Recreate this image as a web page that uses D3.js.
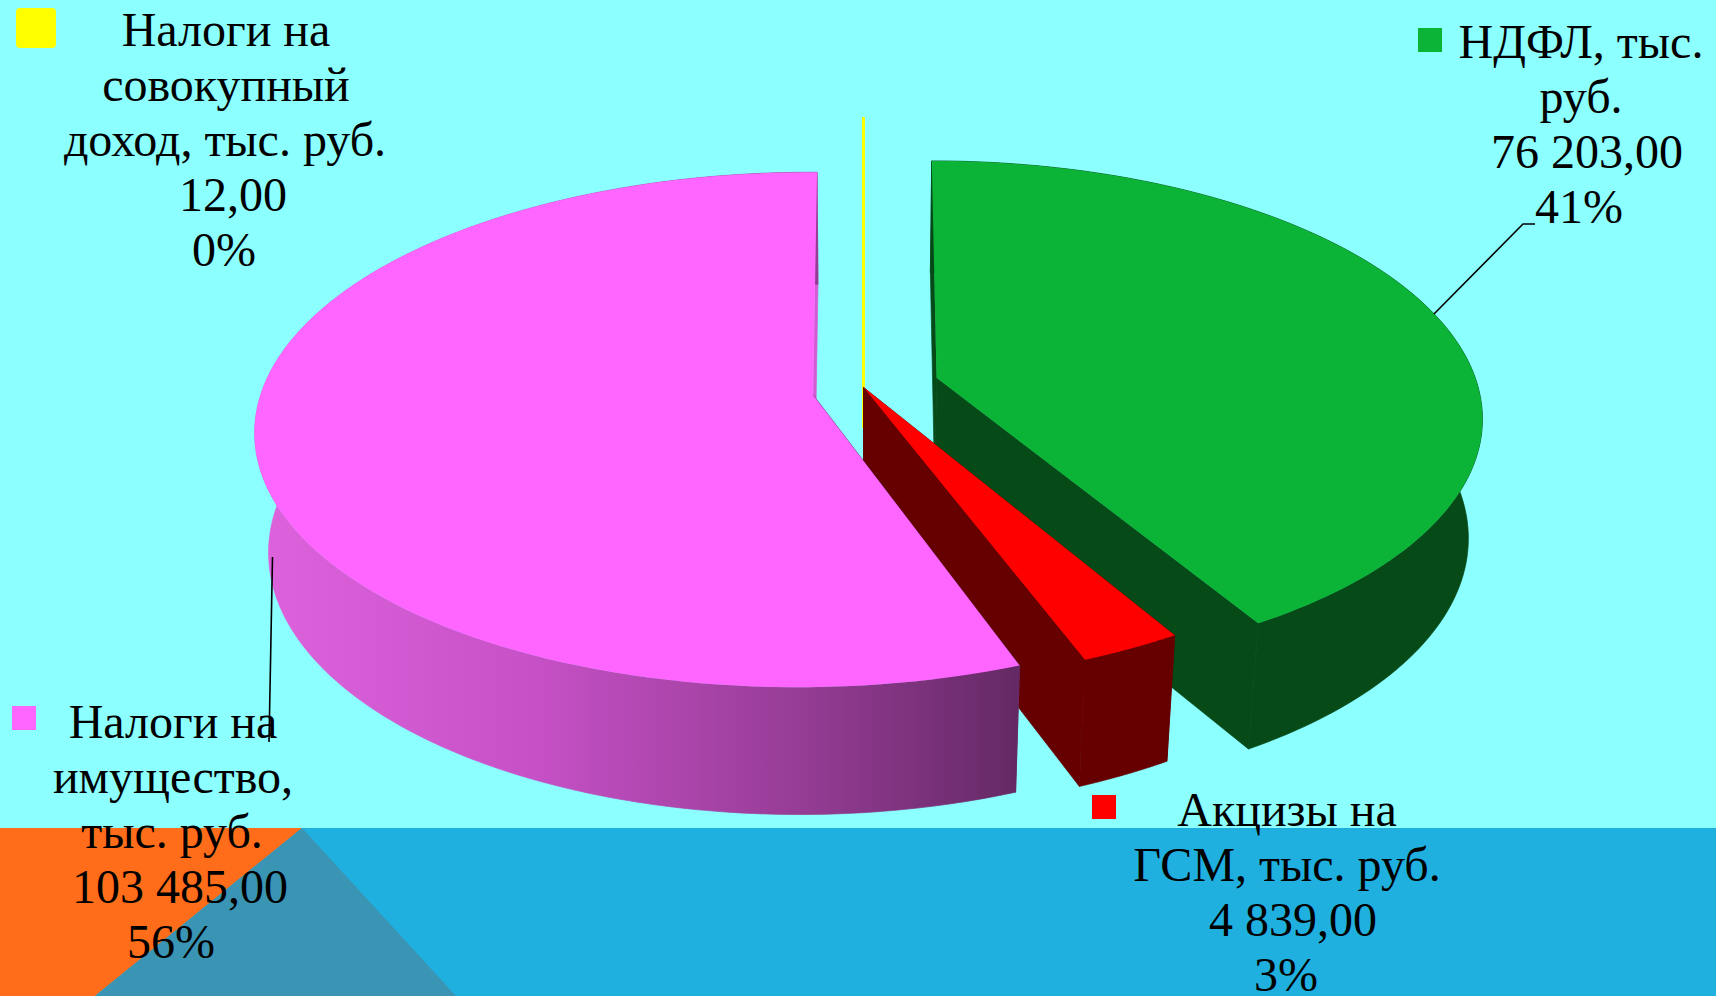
<!DOCTYPE html>
<html lang="ru"><head><meta charset="utf-8">
<script src="https://cdn.jsdelivr.net/npm/d3@7/dist/d3.min.js"></script>
<style>html,body{margin:0;padding:0;background:#8cffff;overflow:hidden}svg{display:block}text{font-family:"Liberation Serif","Times New Roman",serif;font-size:48px;fill:#000;text-anchor:middle}</style>
</head><body><svg id="c" width="1716" height="996"></svg>
<script>
const categories = ["НДФЛ, тыс. руб.", "Акцизы на ГСМ, тыс. руб.", "Налоги на имущество, тыс. руб.", "Налоги на совокупный доход, тыс. руб."];
const values = [76203, 4839, 103485, 12];
const valueLabels = ["76 203,00", "4 839,00", "103 485,00", "12,00"];
const percentLabels = ["41%", "3%", "56%", "0%"];
const topColors = ["#0bb436", "#ff0000", "#ff66ff", "#ffff00"];
const wallColors = ["#064a18", "#660000", "#d45bd4", "#ffff00"];

// slice placement in pie-radius units (exploded offsets)
const placement = [
  {ox:.138, oy:-.056, rx:.976, ry:1, rot:0, ax:.133, ay:-.088, h:1},
  {ox:-.0225, oy:-.067, rx:1.017, ry:1.058, rot:0, ax:0, ay:-.05, h:1},
  {ox:-.105, oy:0, rx:.984, ry:1, rot:.7, ax:-.091, ay:-.02, h:1},
  {ox:0, oy:-.27, rx:1, ry:1, rot:0, ax:0, ay:-.27, h:.86}
];
const cam = {xc:863.5, yv:-1800, d:8.66, S:555, Ht:2200, Hb:2373, e:.2};
function project(X,Y,bottom,h){
  const f = cam.d/(cam.d - Y + (bottom?cam.e:0));
  const H = bottom ? cam.Ht+(cam.Hb-cam.Ht)*h : cam.Ht;
  return [cam.xc + cam.S*X*f, cam.yv + H*f];
}
const svg = d3.select("#c");
const defs = svg.append("defs");
const grad = defs.append("linearGradient").attr("id","pinkWall").attr("gradientUnits","userSpaceOnUse")
  .attr("x1",271).attr("x2",1033).attr("y1",0).attr("y2",0);
[[0,"#dc62dc"],[.35,"#c650c6"],[.7,"#953c95"],[1,"#612861"]].forEach(s=>grad.append("stop").attr("offset",s[0]).attr("stop-color",s[1]));

// background
svg.append("rect").attr("width",1716).attr("height",996).attr("fill","#8cffff");
svg.append("rect").attr("y",828).attr("width",1716).attr("height",168).attr("fill","#20b0e0");
svg.append("polygon").attr("points","0,828 302,828 95,996 0,996").attr("fill","#ff6d1a");
svg.append("polygon").attr("points","302,828 95,996 456,996").attr("fill","#3a94b4");

const pie = d3.pie().sort(null).value(d=>d);
const arcs = pie(values);
const line = d3.line();
const pieG = svg.append("g");
[3,0,1,2].forEach(i=>{
  const a = arcs[i], o = placement[i], rot = o.rot*Math.PI/180;
  const t0 = a.startAngle+rot, t1 = a.endAngle+rot;
  const rim = d3.range(0,121).map(k=>t0+(t1-t0)*k/120);
  const P=(t,b)=>project(o.ox+o.rx*Math.sin(t), o.oy-o.ry*Math.cos(t), b, o.h);
  const C=b=>project(o.ax,o.ay,b,o.h);
  const isYellow = i===3;
  const g = pieG.append("g");
  const seam = (sel,col)=>sel.attr("stroke",col).attr("stroke-width",isYellow?2.6:.7);
  // cut faces
  seam(g.append("path").attr("d",line([C(0),P(t1,0),P(t1,1),C(1)])+"Z").attr("fill",wallColors[i]),wallColors[i]);
  const startCol = i===2?"#612861":wallColors[i];
  seam(g.append("path").attr("d",line([C(0),P(t0,0),P(t0,1),C(1)])+"Z").attr("fill",startCol),startCol);
  // outer wall
  const wallFill = i===2?"url(#pinkWall)":wallColors[i];
  seam(g.append("path").attr("d",line(rim.map(t=>P(t,0)).concat(rim.slice().reverse().map(t=>P(t,1))))+"Z").attr("fill",wallFill),wallFill);
  // top
  g.append("path").attr("d",line([C(0)].concat(rim.map(t=>P(t,0))))+"Z").attr("fill",topColors[i])
    .attr("stroke",isYellow?topColors[i]:"none").attr("stroke-width",isYellow?2.6:0);
});

// leader lines
const leaders = [[[1434,314],[1523,224],[1535,224]],[[272.5,557],[269,742]]];
svg.append("g").selectAll("path").data(leaders).join("path").attr("d",d=>line(d)).attr("fill","none").attr("stroke","#000").attr("stroke-width",1.6);

// labels
const labelLines = [
  ["НДФЛ, тыс.","руб.",valueLabels[0],percentLabels[0]],
  ["Акцизы на","ГСМ, тыс. руб.",valueLabels[1],percentLabels[1]],
  ["Налоги на","имущество,","тыс. руб.",valueLabels[2],percentLabels[2]],
  ["Налоги на","совокупный","доход, тыс. руб.",valueLabels[3],percentLabels[3]]
];
const lineCenters = [[1581,1581,1587,1579],[1287,1287,1293,1286],[173,173,172,180,171],[226,226,225,233,224]];
const firstBaseline = [58,826,738,46];
const keys = [[1418,28,24,0],[1092,795,24,0],[12,706,24,0],[16,8,40,4]];
keys.forEach((k,i)=>svg.append("rect").attr("x",k[0]).attr("y",k[1]).attr("width",k[2]).attr("height",k[2]).attr("rx",k[3]).attr("fill",topColors[i]));
labelLines.forEach((ls,i)=>{
  ls.forEach((s,j)=>svg.append("text").attr("x",lineCenters[i][j]).attr("y",firstBaseline[i]+j*55).text(s));
});
</script></body></html>
